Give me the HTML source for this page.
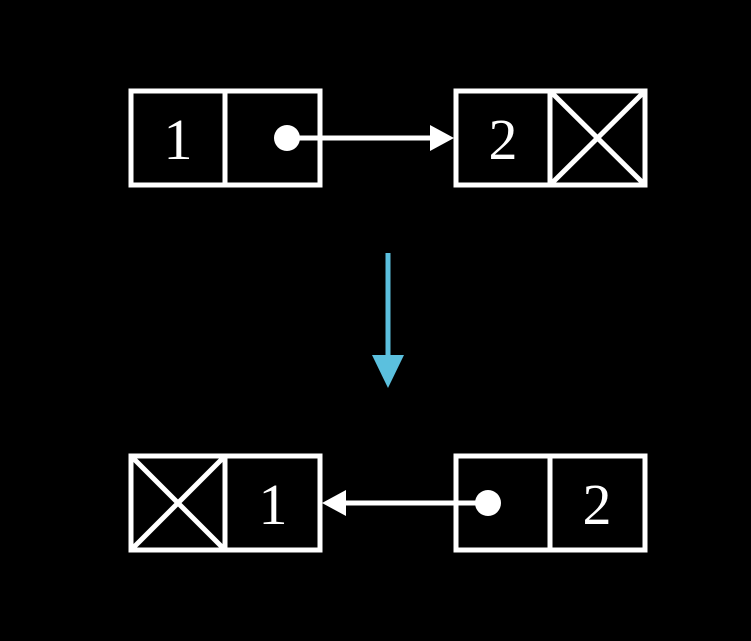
<!DOCTYPE html>
<html><head><style>body{margin:0;background:#000}</style></head><body>
<svg width="751" height="641" xmlns="http://www.w3.org/2000/svg" style="display:block">
<rect width="751" height="641" fill="#000"/>
<g fill="none" stroke="#fff" stroke-width="5">
<rect x="131" y="91" width="189" height="94"/><line x1="225" y1="91" x2="225" y2="185"/>
<rect x="456" y="91" width="189" height="94"/><line x1="550" y1="91" x2="550" y2="185"/>
<line x1="550" y1="91" x2="645" y2="185"/><line x1="645" y1="91" x2="550" y2="185"/>
<rect x="131" y="456" width="189" height="94"/><line x1="225" y1="456" x2="225" y2="550"/>
<line x1="131" y1="456" x2="225" y2="550"/><line x1="225" y1="456" x2="131" y2="550"/>
<rect x="456" y="456" width="189" height="94"/><line x1="550" y1="456" x2="550" y2="550"/>
<line x1="287" y1="138" x2="432" y2="138"/>
<line x1="488" y1="503" x2="345" y2="503"/>
</g>
<circle cx="287" cy="138" r="13" fill="#fff"/>
<polygon points="454,138 430,125 430,151" fill="#fff"/>
<circle cx="488" cy="503" r="13" fill="#fff"/>
<polygon points="322,503 346,490 346,516" fill="#fff"/>
<line x1="388" y1="253" x2="388" y2="360" stroke="#5bc0de" stroke-width="5"/>
<polygon points="388,388 372,355 404,355" fill="#5bc0de"/>
<g font-family="Liberation Serif, serif" font-size="58" fill="#fff" text-anchor="middle">
<text x="178" y="159">1</text><text x="503" y="159">2</text>
<text x="273" y="524">1</text><text x="597" y="524">2</text>
</g>
</svg>
</body></html>
